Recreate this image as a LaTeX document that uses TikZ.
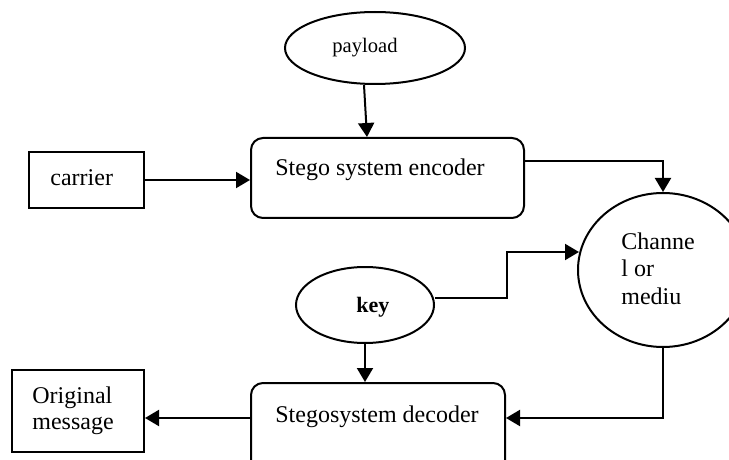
\documentclass[tikz,border=0pt]{standalone}
\usepackage{fontspec}
\setmainfont{Liberation Serif}
\usetikzlibrary{arrows.meta,calc,shapes.geometric}

\tikzset{
  shape node/.style={draw, line width=1pt, inner sep=0pt},
  oval/.style={shape node, ellipse},
  plainbox/.style={shape node, rectangle},
  roundbox/.style={shape node, rectangle, rounded corners=6pt},
  label text/.style={inner sep=0pt, anchor=base west, font=\fontsize{12}{14}\selectfont},
  arr/.style={-{Triangle[length=7pt,width=8pt]}, line width=1pt},
}

\begin{document}
\begin{tikzpicture}[x=0.5pt, y=-0.5pt]
  \clip (0,0) rectangle (729,460);
  \fill[white] (0,0) rectangle (729,460);

  % shapes
  \node[oval, minimum width=90pt, minimum height=36pt] (payload) at (375,48) {};
  \node[roundbox, minimum width=136.5pt, minimum height=40pt] (enc) at (387.5,178) {};
  \node[plainbox, minimum width=57.5pt, minimum height=28pt] (carrier) at (86.5,180) {};
  \node[oval, minimum width=85pt, minimum height=77pt] (chan) at (663,270) {};
  \node[oval, minimum width=69pt, minimum height=38pt] (key) at (365,305) {};
  \node[roundbox, minimum width=127pt, minimum height=48pt] (dec) at (378,431) {};
  \node[plainbox, minimum width=66pt, minimum height=41pt] (orig) at (78,411) {};

  % texts (multi-line labels are placed by their last baseline)
  \node[label text, font=\fontsize{10.3}{12}\selectfont] (payloadtxt) at (332,53) {payload};
  \node[label text] (enctxt) at (275,176) {Stego system encoder};
  \node[label text] (carriertxt) at (50,185) {carrier};
  \node[label text, font=\fontsize{11}{13}\selectfont\bfseries] (keytxt) at (356,312) {key};
  \node[label text, align=left, font=\fontsize{12}{13.75}\selectfont] (chantxt) at (621,304) {Channe\\l or\\mediu};
  \node[label text] (dectxt) at (275,422) {Stegosystem decoder};
  \node[label text, align=left, font=\fontsize{12}{13}\selectfont] (origtxt) at (32,429) {Original\\message};

  % connectors
  \draw[arr] ($(payload.south)+(-11,0)$) -- ($(enc.north)+(-20.5,0)$);
  \draw[arr] (carrier.east) -- (carrier.east -| enc.west);
  \draw[arr] ($(enc.east)+(0,-17)$) -| (chan.north);
  \coordinate (keyout) at ($(key.east)+(0,-7)$);
  \coordinate (chanin) at ($(chan.west)+(2,-18)$);
  \draw[arr] (keyout) -- ++(72,0) |- (chanin);
  \draw[arr] (key.south) -- (key.south |- dec.north);
  \coordinate (decin) at ($(dec.east)+(0,-13)$);
  \draw[arr] (chan.south) |- (decin);
  \coordinate (decout) at ($(dec.west)+(0,-13)$);
  \draw[arr] (decout) -- (decout -| orig.east);
\end{tikzpicture}
\end{document}
